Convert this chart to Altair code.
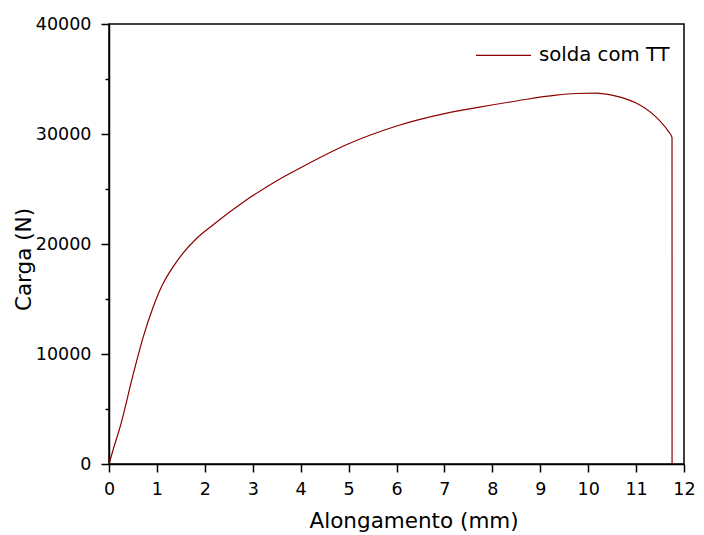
import altair as alt
import pandas as pd

alongamento = [0.0, 0.10, 0.234, 0.509, 0.715, 0.922, 1.128, 1.334, 1.541, 1.816, 2.161,
               2.851, 3.539, 3.95, 4.99, 6.02, 7.05, 7.67, 8.50, 9.33, 9.74,
               10.15, 10.56, 10.98, 11.39, 11.665, 11.75, 11.751]
carga = [0, 1500, 3390, 8230, 11560, 14280, 16400, 17900, 19150, 20450, 21700,
         23950, 25850, 26820, 29090, 30750, 31900, 32400, 33000, 33530, 33680,
         33720, 33470, 32860, 31650, 30290, 29690, 0]
serie = "solda com TT"

x_ticks = [i * 0.5 for i in range(25)]
y_ticks = [i * 5000 for i in range(9)]

df = pd.DataFrame({
    "Alongamento": alongamento,
    "Carga": carga,
    "ordem": list(range(len(alongamento))),
    "serie": [serie] * len(alongamento),
})

FONT = "DejaVu Sans"

major_minor_x = {"condition": {"test": "datum.value % 1 === 0", "value": 8}, "value": 4}
major_minor_y = {"condition": {"test": "datum.value % 10000 === 0", "value": 8}, "value": 4}

chart = alt.Chart(df).mark_line(strokeWidth=1.2, interpolate="monotone").encode(
    x=alt.X("Alongamento:Q",
            scale=alt.Scale(domain=[0, 12], nice=False, zero=False),
            axis=alt.Axis(title="Alongamento (mm)", values=x_ticks, format="d",
                          tickSize=major_minor_x,
                          labelExpr="datum.value % 1 === 0 ? format(datum.value, 'd') : ''",
                          labelOverlap=False, labelFlush=False,
                          labelPadding=8,
                          titleX=304.6, titleY=63.5, titleBaseline="alphabetic",
                          titleAlign="center")),
    y=alt.Y("Carga:Q",
            scale=alt.Scale(domain=[0, 40000], nice=False),
            axis=alt.Axis(title="Carga (N)", values=y_ticks, format="d",
                          tickSize=major_minor_y,
                          labelExpr="datum.value % 10000 === 0 ? format(datum.value, 'd') : ''",
                          labelOverlap=False, labelFlush=False,
                          labelPadding=10,
                          titleX=-78.4, titleY=235, titleBaseline="alphabetic",
                          titleAlign="center", titleAngle=270)),
    color=alt.Color("serie:N",
                    scale=alt.Scale(domain=[serie], range=["#8b0000"]),
                    legend=alt.Legend(title=None, orient="none", legendX=366, legendY=2.8,
                                      symbolType="stroke", symbolSize=3025,
                                      symbolStrokeWidth=1.2, labelOffset=7,
                                      labelFont=FONT, labelFontSize=19.7,
                                      labelColor="black", padding=0)),
    order="ordem:Q",
).properties(
    width=575, height=440,
    autosize=alt.AutoSizeParams(type="none"),
    padding={"left": 101, "top": 16, "right": 12, "bottom": 70},
).configure_view(
    stroke="black", strokeWidth=1.5
).configure_axis(
    grid=False, domainColor="black", domainWidth=1.5, tickColor="black", tickWidth=1.5,
    labelFont=FONT, labelFontSize=17.5, labelColor="black",
    titleFont=FONT, titleFontSize=21.5, titleColor="black", titleFontWeight="normal",
)

chart.save("out.html", embed_options={"renderer": "svg", "actions": False})
